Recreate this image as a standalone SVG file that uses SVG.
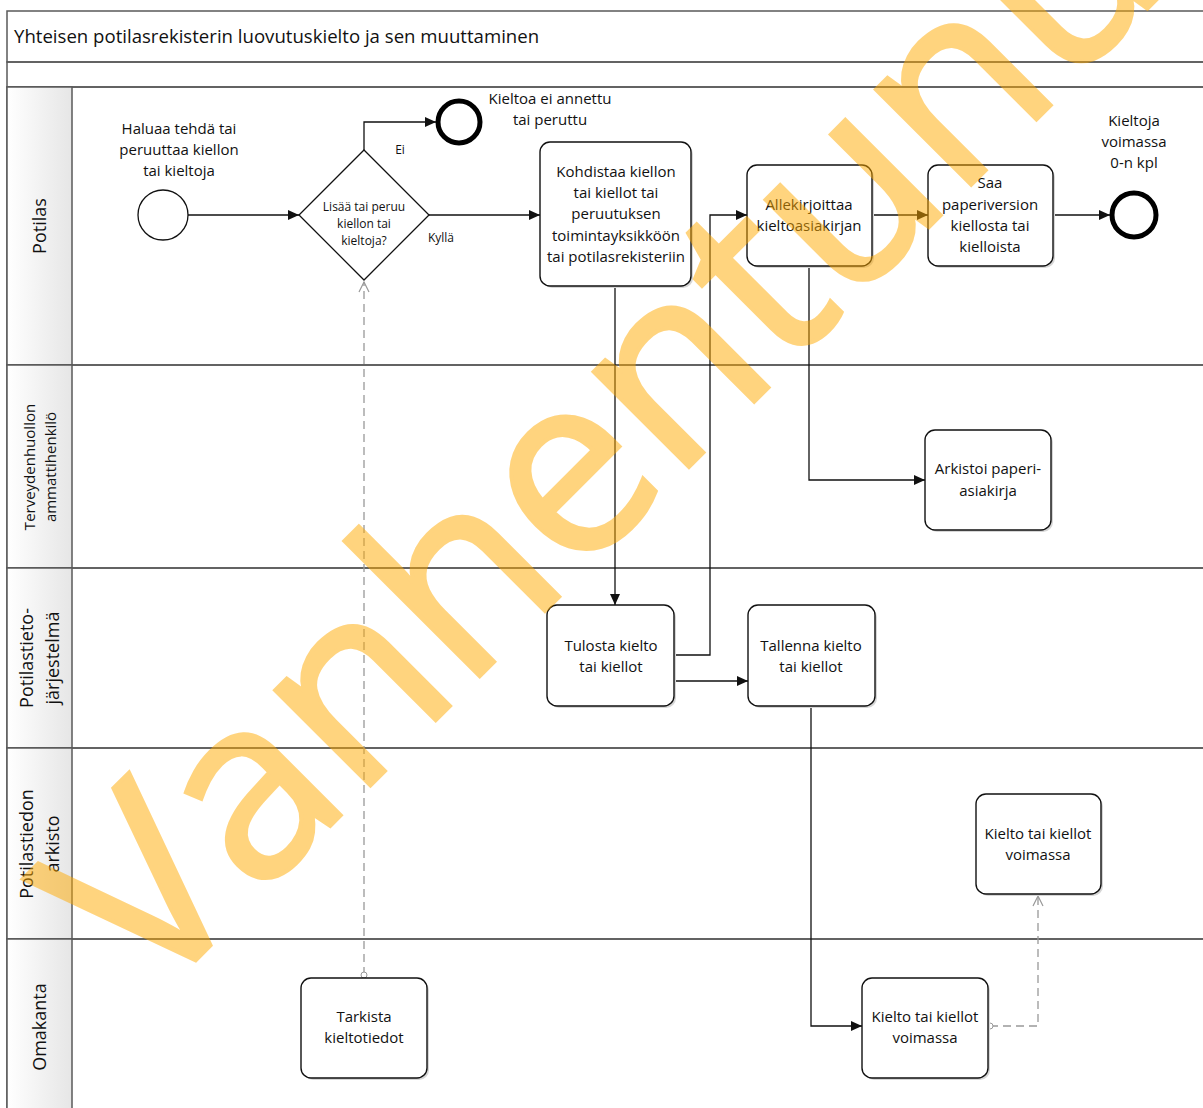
<svg xmlns="http://www.w3.org/2000/svg" width="1203" height="1108" viewBox="0 0 1203 1108">
<style>
  .lane { fill: none; stroke: #5a5a5a; stroke-width: 1.5; }
  .hdr { fill: url(#hg); stroke: #5a5a5a; stroke-width: 1.5; }
  .t { font-family: "Open Sans", "Noto Sans", sans-serif; fill: #111; text-anchor: middle; }
  .task { fill: #fff; stroke: #111; stroke-width: 1.4; }
  .shadow { fill: #d6d6d6; }
  .flow { fill: none; stroke: #111; stroke-width: 1.3; }
  .msg { fill: none; stroke: #999; stroke-width: 1.3; stroke-dasharray: 8 5; }
  .wm { font-family: "Open Sans", "Noto Sans", sans-serif; font-weight: 400; fill: #FFAA00; stroke: #FFAA00; stroke-width: 4; opacity: 0.5; }
</style>
<defs>
  <linearGradient id="hg" x1="0" y1="0" x2="1" y2="0">
    <stop offset="0" stop-color="#ffffff"/>
    <stop offset="1" stop-color="#e6e6e6"/>
  </linearGradient>
  <marker id="arr" markerWidth="12" markerHeight="10" refX="11" refY="5" orient="auto" markerUnits="userSpaceOnUse">
    <path d="M0,0 L11,5 L0,10 Z" fill="#111"/>
  </marker>
  <marker id="oarr" markerWidth="12" markerHeight="12" refX="11" refY="6" orient="auto" markerUnits="userSpaceOnUse">
    <path d="M1,1 L11,6 L1,11" fill="none" stroke="#999" stroke-width="1.2"/>
  </marker>
  <marker id="ocirc" markerWidth="8" markerHeight="8" refX="4" refY="4" orient="auto" markerUnits="userSpaceOnUse">
    <circle cx="4" cy="4" r="3" fill="#fff" stroke="#999" stroke-width="1"/>
  </marker>
</defs>

<rect width="1203" height="1108" fill="#fff"/>

<!-- pool / lanes -->
<g id="pool">
  <rect x="7" y="11" width="1200" height="51" class="lane"/>
  <text x="14" y="43" font-family="Open Sans, Noto Sans, sans-serif" font-size="18.6" fill="#111">Yhteisen potilasrekisterin luovutuskielto ja sen muuttaminen</text>
  <rect x="7" y="62" width="1200" height="25" class="lane"/>
</g>
<g id="lane-potilas">
  <rect x="7" y="87" width="1200" height="278" class="lane"/>
  <rect x="7" y="87" width="65" height="278" class="hdr"/>
  <text class="t" font-size="18" transform="translate(46,226) rotate(-90)">Potilas</text>
</g>
<g id="lane-terveydenhuolto">
  <rect x="7" y="365" width="1200" height="203" class="lane"/>
  <rect x="7" y="365" width="65" height="203" class="hdr"/>
  <text class="t" font-size="15" transform="translate(35,467) rotate(-90)">Terveydenhuollon</text>
  <text class="t" font-size="15" transform="translate(56,467) rotate(-90)">ammattihenkilö</text>
</g>
<g id="lane-ptj">
  <rect x="7" y="568" width="1200" height="180" class="lane"/>
  <rect x="7" y="568" width="65" height="180" class="hdr"/>
  <text class="t" font-size="18" transform="translate(33,658) rotate(-90)">Potilastieto-</text>
  <text class="t" font-size="18" transform="translate(59,658) rotate(-90)">järjestelmä</text>
</g>
<g id="lane-arkisto">
  <rect x="7" y="748" width="1200" height="191" class="lane"/>
  <rect x="7" y="748" width="65" height="191" class="hdr"/>
  <text class="t" font-size="18" transform="translate(33,844) rotate(-90)">Potilastiedon</text>
  <text class="t" font-size="18" transform="translate(59,844) rotate(-90)">arkisto</text>
</g>
<g id="lane-omakanta">
  <rect x="7" y="939" width="1200" height="180" class="lane"/>
  <rect x="7" y="939" width="65" height="180" class="hdr"/>
  <text class="t" font-size="18" transform="translate(46,1027) rotate(-90)">Omakanta</text>
</g>

<!-- connectors -->
<g id="connectors">
  <path class="flow" d="M188,215 H299" marker-end="url(#arr)"/>
  <path class="flow" d="M364,150 V122 H436" marker-end="url(#arr)"/>
  <path class="flow" d="M429,215 H540" marker-end="url(#arr)"/>
  <path class="flow" d="M615,286 V605" marker-end="url(#arr)"/>
  <path class="flow" d="M674,655 H710 V215 H747" marker-end="url(#arr)"/>
  <path class="flow" d="M674,681 H748" marker-end="url(#arr)"/>
  <path class="flow" d="M872,215 H928" marker-end="url(#arr)"/>
  <path class="flow" d="M1053,215 H1110" marker-end="url(#arr)"/>
  <path class="flow" d="M809,266 V480 H925" marker-end="url(#arr)"/>
  <path class="flow" d="M811,706 V1026 H862" marker-end="url(#arr)"/>
  <path class="msg" d="M364,975 V282" marker-start="url(#ocirc)" marker-end="url(#oarr)"/>
  <path class="msg" d="M990,1026 H1038 V896" marker-start="url(#ocirc)" marker-end="url(#oarr)"/>
  <text class="t" font-size="12" x="400" y="154">Ei</text>
  <text class="t" font-size="12" x="441" y="242">Kyllä</text>
</g>

<!-- nodes -->
<g id="start">
  <circle cx="163" cy="215" r="25" fill="#fff" stroke="#111" stroke-width="1.3"/>
  <text class="t" font-size="15" x="179" y="134">Haluaa tehdä tai</text>
  <text class="t" font-size="15" x="179" y="155">peruuttaa kiellon</text>
  <text class="t" font-size="15" x="179" y="176">tai kieltoja</text>
</g>
<g id="gateway">
  <path d="M364,150 L429,215 L364,280 L299,215 Z" fill="#fff" stroke="#111" stroke-width="1.3"/>
  <text class="t" font-size="12" x="364" y="211">Lisää tai peruu</text>
  <text class="t" font-size="12" x="364" y="228">kiellon tai</text>
  <text class="t" font-size="12" x="364" y="245">kieltoja?</text>
</g>
<g id="end-ei">
  <circle cx="459" cy="122" r="21" fill="#fff" stroke="#000" stroke-width="5"/>
  <text class="t" font-size="15" x="550" y="104">Kieltoa ei annettu</text>
  <text class="t" font-size="15" x="550" y="125">tai peruttu</text>
</g>
<g id="task-kohdistaa">
  <rect x="542" y="144" width="151" height="144" rx="10" class="shadow"/>
  <rect x="540" y="142" width="151" height="144" rx="10" class="task"/>
  <text class="t" font-size="15" x="616" y="177">Kohdistaa kiellon</text>
  <text class="t" font-size="15" x="616" y="198">tai kiellot tai</text>
  <text class="t" font-size="15" x="616" y="219">peruutuksen</text>
  <text class="t" font-size="15" x="616" y="241">toimintayksikköön</text>
  <text class="t" font-size="15" x="616" y="262">tai potilasrekisteriin</text>
</g>
<g id="task-allekirjoittaa">
  <rect x="749" y="167" width="125" height="101" rx="10" class="shadow"/>
  <rect x="747" y="165" width="125" height="101" rx="10" class="task"/>
  <text class="t" font-size="15" x="809" y="210">Allekirjoittaa</text>
  <text class="t" font-size="15" x="809" y="231">kieltoasiakirjan</text>
</g>
<g id="task-saa">
  <rect x="930" y="167" width="125" height="101" rx="10" class="shadow"/>
  <rect x="928" y="165" width="125" height="101" rx="10" class="task"/>
  <text class="t" font-size="15" x="990" y="188">Saa</text>
  <text class="t" font-size="15" x="990" y="210">paperiversion</text>
  <text class="t" font-size="15" x="990" y="231">kiellosta tai</text>
  <text class="t" font-size="15" x="990" y="252">kielloista</text>
</g>
<g id="end-voimassa">
  <circle cx="1134" cy="215" r="22" fill="#fff" stroke="#000" stroke-width="5"/>
  <text class="t" font-size="15" x="1134" y="126">Kieltoja</text>
  <text class="t" font-size="15" x="1134" y="147">voimassa</text>
  <text class="t" font-size="15" x="1134" y="168">0-n kpl</text>
</g>
<g id="task-arkistoi">
  <rect x="927" y="432" width="126" height="100" rx="10" class="shadow"/>
  <rect x="925" y="430" width="126" height="100" rx="10" class="task"/>
  <text class="t" font-size="15" x="988" y="474">Arkistoi paperi-</text>
  <text class="t" font-size="15" x="988" y="496">asiakirja</text>
</g>
<g id="task-tulosta">
  <rect x="549" y="607" width="127" height="101" rx="10" class="shadow"/>
  <rect x="547" y="605" width="127" height="101" rx="10" class="task"/>
  <text class="t" font-size="15" x="611" y="651">Tulosta kielto</text>
  <text class="t" font-size="15" x="611" y="672">tai kiellot</text>
</g>
<g id="task-tallenna">
  <rect x="750" y="607" width="127" height="101" rx="10" class="shadow"/>
  <rect x="748" y="605" width="127" height="101" rx="10" class="task"/>
  <text class="t" font-size="15" x="811" y="651">Tallenna kielto</text>
  <text class="t" font-size="15" x="811" y="672">tai kiellot</text>
</g>
<g id="task-arkisto-voimassa">
  <rect x="978" y="796" width="125" height="100" rx="10" class="shadow"/>
  <rect x="976" y="794" width="125" height="100" rx="10" class="task"/>
  <text class="t" font-size="15" x="1038" y="839">Kielto tai kiellot</text>
  <text class="t" font-size="15" x="1038" y="860">voimassa</text>
</g>
<g id="task-tarkista">
  <rect x="303" y="980" width="126" height="100" rx="10" class="shadow"/>
  <rect x="301" y="978" width="126" height="100" rx="10" class="task"/>
  <text class="t" font-size="15" x="364" y="1022">Tarkista</text>
  <text class="t" font-size="15" x="364" y="1043">kieltotiedot</text>
</g>
<g id="task-omakanta-voimassa">
  <rect x="864" y="980" width="126" height="100" rx="10" class="shadow"/>
  <rect x="862" y="978" width="126" height="100" rx="10" class="task"/>
  <text class="t" font-size="15" x="925" y="1022">Kielto tai kiellot</text>
  <text class="t" font-size="15" x="925" y="1043">voimassa</text>
</g>

<!-- watermark -->
<text class="wm" font-size="252" transform="translate(150,1006) rotate(-45)">Vanhentunut</text>
</svg>
